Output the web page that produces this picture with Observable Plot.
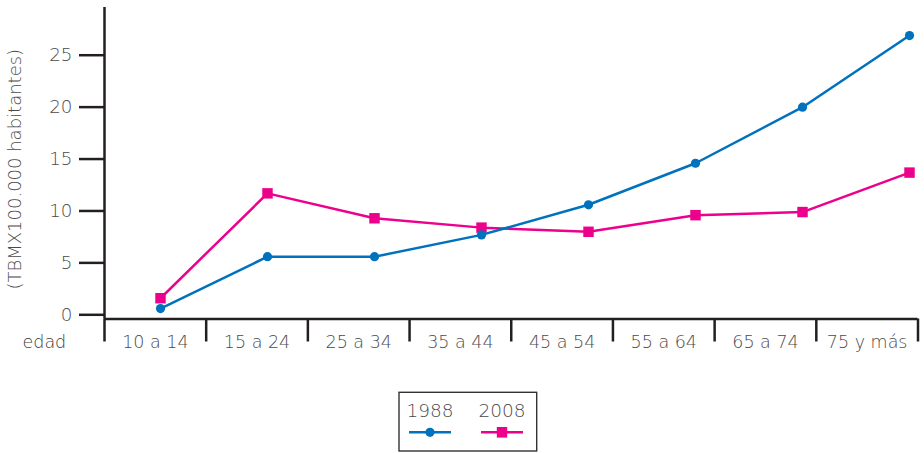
<!DOCTYPE html>
<html><head><meta charset="utf-8">
<script src="https://cdn.jsdelivr.net/npm/d3@7"></script>
<script src="https://cdn.jsdelivr.net/npm/@observablehq/plot@0.6"></script>
<style>
body{margin:0;background:#fff;}
#chart{position:relative;width:924px;height:453px;}
#chart svg{position:absolute;left:0;top:0;}
</style></head><body><div id="chart"></div>
<script>
const ageGroups = ["10 a 14","15 a 24","25 a 34","35 a 44","45 a 54","55 a 64","65 a 74","75 y más"];
const rate1988 = [1.0, 6.0, 6.0, 8.1, 11.0, 15.0, 20.4, 27.3];
const rate2008 = [2.0, 12.1, 9.7, 8.8, 8.4, 10.0, 10.3, 14.1];
const yTicks = [0, 5, 10, 15, 20, 25];
const yLabel = "(TBMX100.000 habitantes)";
const xTitle = "edad";
const years = ["1988", "2008"];
const colors = ["#0071bc", "#ec008c"];

const rows = [];
ageGroups.forEach((g, i) => {
  rows.push({age: g, year: "1988", v: rate1988[i]});
  rows.push({age: g, year: "2008", v: rate2008[i]});
});

const FONT = "'DejaVu Sans', sans-serif";
const W = 924, H = 365, MT = 7, MB = 46.5;
const ink = "#231f20", txt = "#4a4a4a";
const slots = d3.range(ageGroups.length + 1);
const mids = d3.range(ageGroups.length).map(i => i + 0.5);

const axes = Plot.plot({
  width: W, height: H,
  marginTop: MT, marginBottom: MB, marginLeft: 104, marginRight: 6.5,
  style: {fontFamily: FONT, fontWeight: 300, fontSize: "17.5px", background: "transparent", color: txt},
  x: {type: "linear", domain: [0, ageGroups.length], axis: null},
  y: {domain: [0, 30], axis: null},
  marks: [
    Plot.axisY(yTicks, {anchor: "left", tickSize: 25, tickPadding: 7, stroke: ink, strokeWidth: 2.5, fill: txt, fontSize: 18.3, dy: -4.2, label: null}),
    Plot.axisX(slots, {anchor: "bottom", tickSize: 23, stroke: ink, strokeWidth: 2.5, tickFormat: () => "", label: null}),
    Plot.axisX(mids, {anchor: "bottom", tickSize: 0, tickPadding: 16.5, fill: txt, tickFormat: d => ageGroups[Math.floor(d)], label: null}),
    Plot.ruleY([0], {stroke: ink, strokeWidth: 2.5}),
    Plot.ruleX([0], {stroke: ink, strokeWidth: 2.5}),
    Plot.text([yLabel], {frameAnchor: "left", textAnchor: "middle", lineAnchor: "middle", rotate: -90, dx: -89, dy: 6, fill: txt, fontSize: 18}),
    Plot.text([xTitle], {frameAnchor: "bottom-left", textAnchor: "start", lineAnchor: "middle", dx: -82, dy: 23.5, fill: "#3a3a3a", fontSize: 17.5})
  ]
});

const lines = Plot.plot({
  width: W, height: H,
  marginTop: MT, marginBottom: MB, marginLeft: 157.7, marginRight: 11.7,
  style: {background: "none"},
  x: {type: "point", domain: ageGroups, padding: 0, axis: null},
  y: {domain: [0, 30], axis: null},
  color: {domain: years, range: colors},
  marks: [
    Plot.line(rows.filter(d => d.year === "2008"), {x: "age", y: "v", stroke: "year", strokeWidth: 2.5}),
    Plot.dot(rows.filter(d => d.year === "2008"), {x: "age", y: "v", fill: "year", symbol: "square", r: 5.9}),
    Plot.line(rows.filter(d => d.year === "1988"), {x: "age", y: "v", stroke: "year", strokeWidth: 2.5}),
    Plot.dot(rows.filter(d => d.year === "1988"), {x: "age", y: "v", fill: "year", r: 4.6})
  ]
});

const chart = document.getElementById("chart");
chart.appendChild(axes);
chart.appendChild(lines);

// legend below the plot
const lg = d3.create("svg").attr("width", W).attr("height", 88)
  .style("top", H + "px").style("font-family", FONT).style("font-weight", 300);
lg.append("rect").attr("x", 399).attr("y", 27.3).attr("width", 137.7).attr("height", 58.7)
  .attr("fill", "none").attr("stroke", "#333").attr("stroke-width", 1.4);
const lx = [430, 502];
years.forEach((yr, i) => {
  const g = lg.append("g").attr("transform", `translate(${lx[i]},0)`);
  g.append("text").attr("y", 51.5).attr("text-anchor", "middle").attr("font-size", 18.5).attr("fill", txt).text(yr);
  g.append("line").attr("x1", -21).attr("x2", 21).attr("y1", 67.3).attr("y2", 67.3)
    .attr("stroke", colors[i]).attr("stroke-width", 2.5);
  if (i === 0) g.append("circle").attr("r", 4.6).attr("cy", 67.3).attr("fill", colors[i]);
  else g.append("rect").attr("x", -5.2).attr("y", 62).attr("width", 10.4).attr("height", 10.6).attr("fill", colors[i]);
});
chart.appendChild(lg.node());
</script></body></html>
